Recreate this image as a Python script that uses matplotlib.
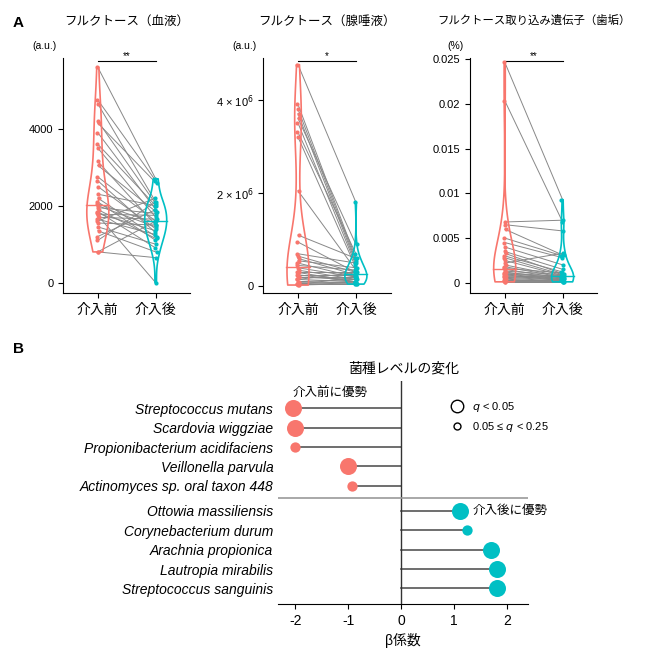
import numpy as np
import matplotlib
matplotlib.use('Agg')
import matplotlib.pyplot as plt
from matplotlib.lines import Line2D

plt.rcParams['font.family'] = ['Liberation Sans', 'Noto Sans CJK JP', 'DejaVu Sans']

RED = '#F8766D'
CYAN = '#00BFC4'

groups = ['介入前', '介入後']

# フルクトース（血液）
blood_pre = [5600, 4750, 4650, 4200, 4150, 3900, 3600, 3500, 3150, 3050, 2750, 2650, 2500, 2300,
             2200, 2100, 2050, 2000, 1950, 1900, 1850, 1800, 1780, 1750, 1700, 1650, 1600, 1550,
             1450, 1350, 1200, 1100, 800, 800]
blood_post = [2700, 2650, 2100, 2050, 2600, 1900, 2000, 1700, 1500, 1850, 1600, 1300, 1400, 2000,
              1200, 1100, 1550, 1450, 1800, 1150, 900, 1350, 1750, 0, 1650, 1250, 2200, 1500,
              1000, 800, 1900, 2100, 650, 1600]
# フルクトース（腺唾液） x1e6
saliva_pre = [4.75, 3.9, 3.8, 3.7, 3.6, 3.5, 3.3, 3.2, 2.05, 1.1, 0.95, 0.7, 0.65, 0.6, 0.55, 0.5,
              0.45, 0.4, 0.35, 0.3, 0.3, 0.25, 0.25, 0.2, 0.2, 0.15, 0.15, 0.1, 0.1, 0.08, 0.06,
              0.05, 0.04, 0.03]
saliva_post = [1.8, 0.6, 0.55, 0.5, 0.9, 0.45, 0.7, 0.4, 0.35, 0.6, 0.3, 0.5, 0.3, 0.25, 0.4, 0.2,
               0.35, 0.2, 0.15, 0.3, 0.1, 0.25, 0.1, 0.2, 0.15, 0.1, 0.3, 0.08, 0.15, 0.05, 0.1,
               0.05, 0.2, 0.06]
# フルクトース取り込み遺伝子（歯垢） %
plaque_pre = [0.0247, 0.0204, 0.0068, 0.0065, 0.006, 0.005, 0.0045, 0.004, 0.0035, 0.0033, 0.003,
              0.0028, 0.0025, 0.0022, 0.002, 0.0018, 0.0016, 0.0015, 0.0013, 0.0012, 0.0011, 0.001,
              0.001, 0.0009, 0.0008, 0.0007, 0.0006, 0.0006, 0.0005, 0.0004, 0.0003, 0.0002,
              0.0001, 0.0001]
plaque_post = [0.0093, 0.0068, 0.007, 0.0058, 0.0031, 0.003, 0.0028, 0.002, 0.0015, 0.001, 0.0012,
               0.0009, 0.0008, 0.0033, 0.0007, 0.0006, 0.0011, 0.0005, 0.0009, 0.0004, 0.0007,
               0.0003, 0.0006, 0.0002, 0.0005, 0.0004, 0.0003, 0.0008, 0.0002, 0.0001, 0.0003,
               0.0002, 0.0001, 0.0001]

species = ['Streptococcus mutans', 'Scardovia wiggziae', 'Propionibacterium acidifaciens',
           'Veillonella parvula', 'Actinomyces sp. oral taxon 448', 'Ottowia massiliensis',
           'Corynebacterium durum', 'Arachnia propionica', 'Lautropia mirabilis',
           'Streptococcus sanguinis']
beta = [-2.05, -2.0, -2.0, -1.0, -0.93, 1.1, 1.25, 1.7, 1.8, 1.8]
q_sig = [True, True, False, True, False, True, False, True, True, True]

fig = plt.figure(figsize=(6.5, 6.55), dpi=100)

panels = [
    ('フルクトース（血液）', blood_pre, blood_post, 1, (-280, 5850), [0, 2000, 4000],
     ['0', '2000', '4000'], '(a.u.)', '**'),
    ('フルクトース（腺唾液）', saliva_pre, saliva_post, 1e6, (-0.15e6, 4.9e6), [0, 2e6, 4e6],
     ['0', r'2 × 10$^6$', r'4 × 10$^6$'], '(a.u.)', '*'),
    ('フルクトース取り込み遺伝子（歯垢）', plaque_pre, plaque_post, 1, (-0.0012, 0.0252),
     [0, 0.005, 0.01, 0.015, 0.02, 0.025], ['0', '0.005', '0.01', '0.015', '0.02', '0.025'],
     '(%)', '**'),
]
lefts = [0.097, 0.405, 0.723]
for (title, pre, post, scale, ylim, ticks, tlabels, unit, star), left in zip(panels, lefts):
    ax = fig.add_axes([left, 0.552, 0.196, 0.36])
    pre = np.array(pre) * scale
    post = np.array(post) * scale
    n = len(pre)
    off = (np.arange(n) % 5 - 2) * 0.01
    for a, b in zip(pre, post):
        ax.plot([0, 1], [a, b], color='#888888', lw=0.7, zorder=1)
    for i, (vals, c) in enumerate([(pre, RED), (post, CYAN)]):
        vp = ax.violinplot(vals, positions=[i], widths=0.38, showextrema=False)
        for body in vp['bodies']:
            body.set_facecolor('none')
            body.set_edgecolor(c)
            body.set_linewidth(1.2)
            body.set_alpha(1)
        ax.scatter(i + off, vals, s=9, color=c, zorder=3, lw=0)
        med = np.median(vals)
        ax.plot([i - 0.2, i + 0.2], [med, med], color=c, lw=1, zorder=4)
        ax.plot([i, i], [med - (ylim[1] - ylim[0]) * 0.03, med + (ylim[1] - ylim[0]) * 0.03],
                color=c, lw=1, zorder=4)
    top = ylim[1] * 0.985
    ax.plot([0, 1], [top, top], color='black', lw=0.8)
    ax.text(0.5, top, star, ha='center', va='bottom', fontsize=7)
    ax.set_xlim(-0.6, 1.6)
    ax.set_ylim(*ylim)
    ax.set_yticks(ticks)
    ax.set_yticklabels(tlabels, fontsize=8)
    ax.set_xticks([0, 1])
    ax.set_xticklabels(groups, fontsize=10)
    for s in ['top', 'right']:
        ax.spines[s].set_visible(False)
    ax.text(-0.05, 1.03, unit, transform=ax.transAxes, ha='right', va='bottom', fontsize=7.5)
    ax.set_title(title, fontsize=9 if len(title) < 15 else 8.2, pad=24)

fig.text(0.02, 0.975, 'A', fontsize=11, weight='bold', va='top')
fig.text(0.02, 0.478, 'B', fontsize=11, weight='bold', va='top')

axb = fig.add_axes([0.428, 0.078, 0.385, 0.34])
ypos = np.array([0, 1, 2, 3, 4, 5.3, 6.3, 7.3, 8.3, 9.3])
for y, b, sig in zip(ypos, beta, q_sig):
    c = RED if b < 0 else CYAN
    axb.plot([0, b], [y, y], color='#555555', lw=1.2, zorder=1)
    axb.scatter([b], [y], s=150 if sig else 55, color=c, zorder=3, lw=0)
axb.axvline(0, color='#333333', lw=1)
axb.axhline(4.65, color='#999999', lw=1.2)
axb.set_ylim(10.1, -1.4)
axb.set_xlim(-2.32, 2.4)
axb.set_xticks([-2, -1, 0, 1, 2])
axb.set_xticklabels(['-2', '-1', '0', '1', '2'], fontsize=10)
axb.set_yticks(ypos)
axb.set_yticklabels(species, fontsize=10, style='italic')
axb.tick_params(axis='y', length=0)
for s in ['top', 'right', 'left']:
    axb.spines[s].set_visible(False)
axb.set_xlabel('β係数', fontsize=10)
axb.set_title('菌種レベルの変化', fontsize=10)
axb.text(-2.05, -0.5, '介入前に優勢', fontsize=9, va='bottom')
axb.text(1.35, 5.3, '介入後に優勢', fontsize=9, va='center')
handles = [Line2D([], [], marker='o', ls='', mfc='white', mec='black', ms=9),
           Line2D([], [], marker='o', ls='', mfc='white', mec='black', ms=5)]
axb.legend(handles, [r'$q$ < 0.05', r'0.05 ≤ $q$ < 0.25'], loc='upper right',
           bbox_to_anchor=(1.12, 0.96), frameon=False, fontsize=8, handletextpad=0.3)

fig.savefig('out.png', dpi=100)
